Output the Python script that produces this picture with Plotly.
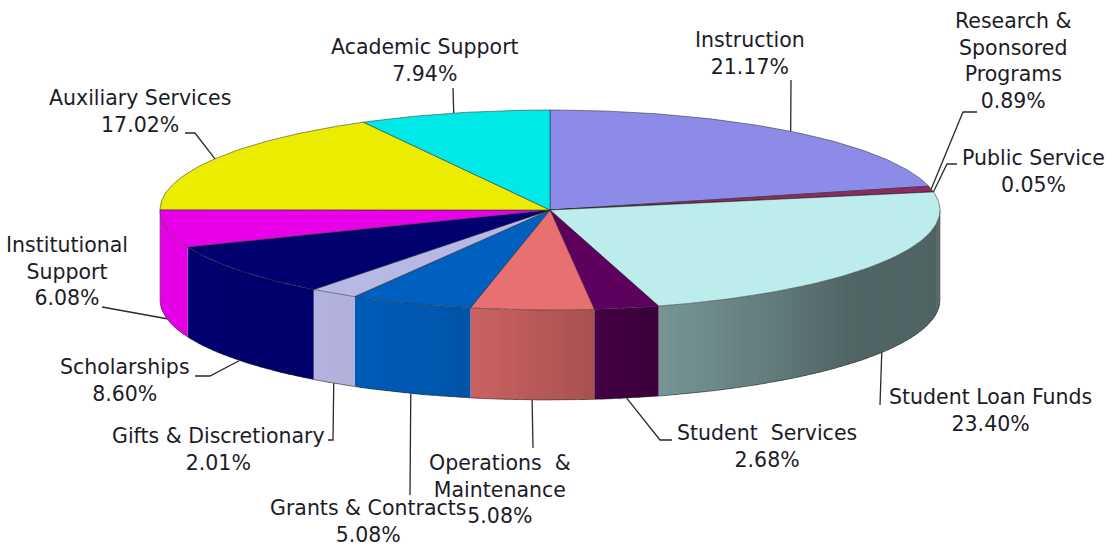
import math
import plotly.graph_objects as go

# ---------------- data ----------------
categories = ["Instruction", "Research & Sponsored Programs", "Public Service",
              "Student Loan Funds", "Student Services", "Operations & Maintenance",
              "Grants & Contracts", "Gifts & Discretionary", "Scholarships",
              "Institutional Support", "Auxiliary Services", "Academic Support"]
values = [21.17, 0.89, 0.05, 23.40, 2.68, 5.08, 5.08, 2.01, 8.60, 6.08, 17.02, 7.94]
display_names = ["Instruction", "Research &<br>Sponsored<br>Programs", "Public Service",
                 "Student Loan Funds", "Student  Services", "Operations  &<br>Maintenance",
                 "Grants & Contracts", "Gifts & Discretionary", "Scholarships",
                 "Institutional<br>Support", "Auxiliary Services", "Academic Support"]

# ---------------- style ----------------
top_colors = ["#8c8ce8", "#8e2a60", "#f4f4c8", "#bdecec", "#5e005e", "#e87070",
              "#0060c0", "#b8b8e4", "#000070", "#e800e8", "#ecec00", "#00e8e8"]
CX, CY, RX, RY, DEPTH = 550, 210, 390, 100, 90
FONT = dict(family="DejaVu Sans", size=20.5, color="#1c1c28")

# label layout: (text center x, text center y, leader anchor on 'top' rim or 'bottom' rim, elbow points)
label_layout = [
    (750, 53, "top", [(791, 80)]),
    (1013, 61, "top", [(963, 112), (977, 112)]),
    (1033, 171, "top", [(947, 164), (957, 164)]),
    (990, 410, "bottom", [(880, 405)]),
    (767, 446, "bottom", [(660, 440), (672, 440)]),
    (500, 489, "bottom", [(533, 448)]),
    (368, 521, "bottom", [(410, 495)]),
    (218, 449, "bottom", [(333, 440), (328, 440)]),
    (125, 380, "bottom", [(210, 376), (195, 376)]),
    (67, 271, "bottom", [(102, 307)]),
    (140, 111, "top", [(195, 133), (185, 133)]),
    (425, 60, "top", [(453, 88)]),
]


def pt(theta_deg, dy=0.0):
    t = math.radians(theta_deg)
    return CX + RX * math.sin(t), CY - RY * math.cos(t) + dy


def hex2rgb(h):
    h = h.lstrip("#")
    return tuple(int(h[i:i + 2], 16) for i in (0, 2, 4))


def shade(theta):
    pts = [(90, 0.42), (130, 0.43), (165, 0.64), (175, 0.74), (192, 0.88),
           (200, 0.93), (215, 0.97), (270, 1.0)]
    for (a0, f0), (a1, f1) in zip(pts[:-1], pts[1:]):
        if a0 <= theta <= a1:
            return f0 + (f1 - f0) * (theta - a0) / (a1 - a0)
    return 1.0


def col(hexc, f):
    r, g, b = hex2rgb(hexc)
    return "rgb(%d,%d,%d)" % (min(255, r * f), min(255, g * f), min(255, b * f))


total = sum(values)
bounds = []
acc = 0.0
for v in values:
    a0 = acc / total * 360.0
    acc += v
    a1 = acc / total * 360.0
    bounds.append((a0, a1))

fig = go.Figure()

# ---- side walls (front half only) ----
for (a0, a1), c in zip(bounds, top_colors):
    s0, s1 = max(a0, 90.0), min(a1, 270.0)
    if s1 <= s0:
        continue
    n = max(1, int(math.ceil((s1 - s0) / 1.5)))
    for k in range(n):
        t0 = s0 + (s1 - s0) * k / n
        t1 = s0 + (s1 - s0) * (k + 1) / n
        t1e = min(s1, t1 + 0.6)  # slight overlap to hide seams
        xs, ys = [], []
        for t in (t0, (t0 + t1e) / 2, t1e):
            x, y = pt(t)
            xs.append(x); ys.append(y)
        for t in (t1e, (t0 + t1e) / 2, t0):
            x, y = pt(t, DEPTH)
            xs.append(x); ys.append(y)
        cc = col(c, shade((t0 + t1) / 2))
        fig.add_trace(go.Scatter(x=xs, y=ys, mode="lines", fill="toself",
                                 fillcolor=cc, line=dict(width=0),
                                 hoverinfo="skip", showlegend=False))
    # bottom outline of this side
    m = max(2, int((s1 - s0) / 1.0) + 1)
    bx, by = [], []
    for k in range(m):
        t = s0 + (s1 - s0) * k / (m - 1)
        x, y = pt(t, DEPTH)
        bx.append(x); by.append(y)
    fig.add_trace(go.Scatter(x=bx, y=by, mode="lines",
                             line=dict(color="rgba(40,40,40,0.7)", width=0.8),
                             hoverinfo="skip", showlegend=False))

# vertical edges at the left and right extremes
for t in (90.0, 270.0):
    x0, y0 = pt(t)
    x1, y1 = pt(t, DEPTH)
    fig.add_trace(go.Scatter(x=[x0, x1], y=[y0, y1], mode="lines",
                             line=dict(color="rgba(40,40,40,0.6)", width=0.8),
                             hoverinfo="skip", showlegend=False))

# ---- top faces ----
for (a0, a1), c in zip(bounds, top_colors):
    m = max(2, int((a1 - a0) / 0.8) + 2)
    xs, ys = [CX], [CY]
    for k in range(m):
        t = a0 + (a1 - a0) * k / (m - 1)
        x, y = pt(t)
        xs.append(x); ys.append(y)
    xs.append(CX); ys.append(CY)
    fig.add_trace(go.Scatter(x=xs, y=ys, mode="lines", fill="toself",
                             fillcolor=c, line=dict(color="rgba(40,40,40,0.75)", width=0.7),
                             hoverinfo="skip", showlegend=False))

# ---- labels & leader lines ----
for i, ((a0, a1), name, v) in enumerate(zip(bounds, display_names, values)):
    lx, ly, where, elbows = label_layout[i]
    mid = (a0 + a1) / 2
    ax, ay = pt(mid, DEPTH if where == "bottom" else 0)
    xs = [ax] + [p[0] for p in elbows]
    ys = [ay] + [p[1] for p in elbows]
    fig.add_trace(go.Scatter(x=xs, y=ys, mode="lines",
                             line=dict(color="#2a2a2a", width=1.3),
                             hoverinfo="skip", showlegend=False))
    fig.add_annotation(x=lx, y=ly, xref="x", yref="y", showarrow=False,
                       text=f"{name}<br>{v:.2f}%", font=FONT,
                       xanchor="center", yanchor="middle", align="center")

fig.update_layout(
    width=1115, height=548, autosize=False,
    margin=dict(l=0, r=0, t=0, b=0),
    paper_bgcolor="white", plot_bgcolor="white",
    xaxis=dict(range=[0, 1115], visible=False, fixedrange=True),
    yaxis=dict(range=[548, 0], visible=False, fixedrange=True),
    showlegend=False,
)

fig.write_html("out.html", config={"displayModeBar": False},
               post_script="document.body.style.margin='0';document.body.style.overflow='hidden';")
